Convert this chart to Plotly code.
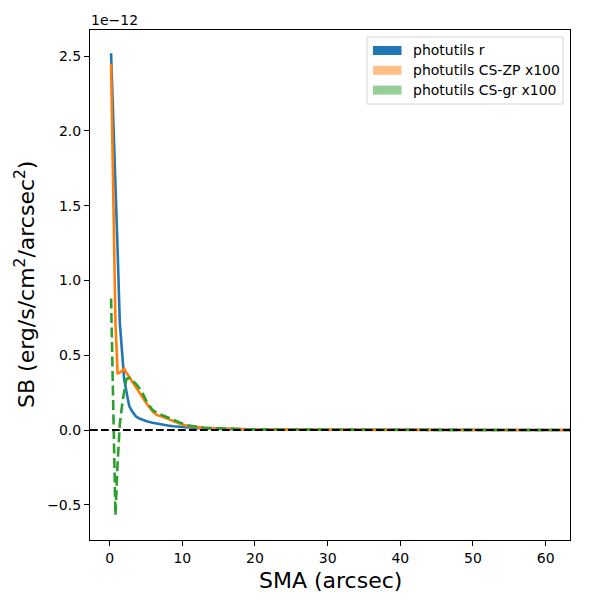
import plotly.graph_objects as go

# surface brightness profiles, values in units of 1e-12 erg/s/cm^2/arcsec^2
sma = [0.2, 0.5, 0.8, 1.1, 1.4, 1.8, 2.0, 2.3, 2.7, 3.1, 3.6, 4.1, 4.6, 5.2, 5.9,
       6.5, 7.2, 8.0, 8.8, 9.7, 10.7, 11.8, 13.0, 14.3, 15.7, 17.3, 19.0, 21.0,
       23.0, 25.5, 28.0, 31.0, 34.0, 37.5, 41.0, 45.0, 50.0, 55.0, 60.0, 64.0]

sb_r = [2.52, 2.12, 1.66, 1.20, 0.72, 0.42, 0.34, 0.26, 0.16, 0.125, 0.092, 0.077,
        0.067, 0.057, 0.049, 0.043, 0.037, 0.031, 0.026, 0.021, 0.017, 0.014, 0.011,
        0.009, 0.007, 0.006, 0.005, 0.004, 0.0035, 0.003, 0.0025, 0.002, 0.0018,
        0.0015, 0.0013, 0.0011, 0.001, 0.0009, 0.0008, 0.0007]

sb_cs_zp = [2.45, 1.55, 0.72, 0.38, 0.385, 0.40, 0.41, 0.385, 0.355, 0.33, 0.29, 0.255,
            0.22, 0.17, 0.125, 0.10, 0.09, 0.075, 0.055, 0.042, 0.027, 0.02, 0.015,
            0.012, 0.009, 0.007, 0.006, 0.005, 0.004, 0.003, 0.002, 0.002, 0.0015,
            0.001, 0.001, 0.0008, 0.0005, 0.0005, 0.0003, 0.0003]

sb_cs_gr = [0.88, 0.14, -0.57, -0.22, 0.04, 0.20, 0.27, 0.34, 0.35, 0.335, 0.31, 0.28,
            0.24, 0.18, 0.136, 0.115, 0.10, 0.085, 0.066, 0.05, 0.032, 0.022, 0.016,
            0.012, 0.009, 0.007, 0.005, 0.004, 0.0035, 0.003, 0.002, 0.002, 0.0015,
            0.001, 0.001, 0.0008, 0.0005, 0.0005, 0.0003, 0.0003]

legend_labels = ["photutils r", "photutils CS-ZP x100", "photutils CS-gr x100"]
legend_colors = ["#1f77b4", "#ffbf86", "#95cf95"]

x_ticks = [0, 10, 20, 30, 40, 50, 60]
y_ticks = [-0.5, 0.0, 0.5, 1.0, 1.5, 2.0, 2.5]

FONT = "DejaVu Sans"
OFF = 8  # page body margin
W, H = 592, 592
# plot area wanted on screen at x 90..570, y 30..540
L, T = 90 - OFF, 30 - OFF
R, B = W - (570 - OFF), H - (540 - OFF)


def px(x):
    return (x - OFF - L) / (W - L - R)


def py(y):
    return (H - B - (y - OFF)) / (H - T - B)


fig = go.Figure()
fig.add_trace(go.Scatter(x=sma, y=sb_r, mode="lines",
                         line=dict(color="#1f77b4", width=2.6), showlegend=False))
fig.add_trace(go.Scatter(x=sma, y=sb_cs_zp, mode="lines",
                         line=dict(color="#ff7f0e", width=2.6), showlegend=False))
fig.add_trace(go.Scatter(x=sma, y=sb_cs_gr, mode="lines",
                         line=dict(color="#2ca02c", width=2.6, dash="10px,4.5px"),
                         showlegend=False))

# zero line
fig.add_shape(type="line", xref="paper", yref="y", x0=0, x1=1, y0=0, y1=0,
              line=dict(color="black", width=2, dash="7.7px,3.3px"))

# legend drawn by hand (matplotlib-like patches)
fig.add_shape(type="rect", xref="paper", yref="paper",
              x0=px(367), x1=px(563), y0=py(104), y1=py(37),
              line=dict(color="#d6d6d6", width=1), fillcolor="white")
for i, (lab, col) in enumerate(zip(legend_labels, legend_colors)):
    cy = 50.5 + i * 19.8
    fig.add_shape(type="rect", xref="paper", yref="paper",
                  x0=px(373), x1=px(401.5), y0=py(cy + 4.5), y1=py(cy - 4.5),
                  line=dict(width=0), fillcolor=col)
    fig.add_annotation(x=px(411), y=py(cy), xref="paper", yref="paper",
                       text=lab, showarrow=False, xanchor="left", yanchor="middle",
                       font=dict(family=FONT, size=14, color="black"))

# offset text and axis titles
fig.add_annotation(x=px(89), y=py(20), xref="paper", yref="paper", text="1e\u221212",
                   showarrow=False, xanchor="left", yanchor="middle",
                   font=dict(family=FONT, size=14, color="black"))
fig.add_annotation(x=0.5, y=py(580), xref="paper", yref="paper", text="SMA (arcsec)",
                   showarrow=False, xanchor="center", yanchor="middle",
                   font=dict(family=FONT, size=22, color="black"))
fig.add_annotation(x=px(25), y=0.5, xref="paper", yref="paper",
                   text="SB (erg/s/cm<sup>2</sup>/arcsec<sup>2</sup>)", textangle=-90,
                   showarrow=False, xanchor="center", yanchor="middle",
                   font=dict(family=FONT, size=22, color="black"))

axis_style = dict(showgrid=False, zeroline=False, showline=True, mirror=True,
                  linecolor="black", linewidth=1.1, ticks="outside", ticklen=5,
                  tickwidth=1.1, tickcolor="black",
                  tickfont=dict(family=FONT, size=14, color="black"))

fig.update_xaxes(range=[-2.7, 63.35], tickvals=x_ticks,
                 ticktext=[str(v) for v in x_ticks], **axis_style)
fig.update_yaxes(range=[-0.735, 2.675], tickvals=y_ticks,
                 ticktext=[f"{v:.1f}".replace("-", "\u2212") for v in y_ticks],
                 **axis_style)

fig.update_layout(width=W, height=H, margin=dict(l=L, r=R, t=T, b=B),
                  plot_bgcolor="white", paper_bgcolor="white",
                  font=dict(family=FONT), showlegend=False)

fig.write_html("out.html")
